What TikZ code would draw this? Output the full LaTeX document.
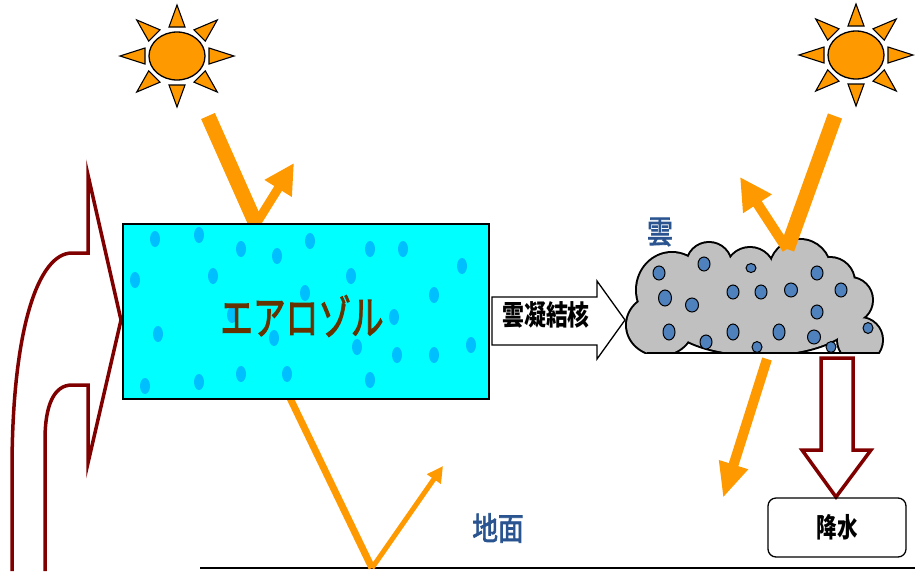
\documentclass[tikz,border=0pt]{standalone}
\usepackage{fontspec}
\newfontfamily\jpfont{Noto Sans CJK JP}
\newfontfamily\jpmid{Noto Sans CJK JP}[FakeBold=2.5]
\usetikzlibrary{arrows.meta}
\definecolor{sunorange}{HTML}{FF9900}
\definecolor{aqua}{HTML}{00FFFF}
\definecolor{aerodot}{HTML}{00BFFF}
\definecolor{flowred}{HTML}{800000}
\definecolor{cloudgrey}{HTML}{C0C0C0}
\definecolor{drop}{HTML}{4F81BD}
\definecolor{labelblue}{HTML}{2A5490}
\definecolor{aerobrown}{HTML}{663300}

\tikzset{
  beam/.style={draw=sunorange, line width=#1},
  bounce/.style 2 args={draw=sunorange, line width=#1, -{Triangle[width=#2pt,length=#2pt]}},
  flowarrow/.style={draw=flowred, line width=3.5pt, fill=white, line join=miter},
  jptext/.style={font={\jpmid\fontsize{#1pt}{#1pt}\selectfont}, inner sep=0pt},
  jpbold/.style={font={\jpfont\bfseries\fontsize{#1pt}{#1pt}\selectfont}, inner sep=0pt},
  sunpic/.pic={
    \foreach \a in {0,45,...,315}{
      \draw[fill=sunorange, line width=1.1pt, line join=miter]
        ({57*cos(\a)},{-51*sin(\a)})
        -- ({32*cos(\a)+8*sin(\a)},{-29*sin(\a)+8*cos(\a)})
        -- ({32*cos(\a)-8*sin(\a)},{-29*sin(\a)-8*cos(\a)}) -- cycle;
    }
    \draw[fill=sunorange, line width=1.3pt] (0,0) ellipse [x radius=28pt, y radius=24pt];
  }
}

\begin{document}
\begin{tikzpicture}[x=1pt,y=-1pt]
\useasboundingbox (0,0) rectangle (915,571);

% suns
\pic (sunL) at (177,56) {sunpic};
\pic (sunR) at (856,55) {sunpic};

% ground
\coordinate (groundL) at (200,568);
\coordinate (groundR) at (915,568);
\draw[line width=2pt] (groundL) -- (groundR);
\node[jptext=32, text=labelblue, xscale=0.8] (ground) at (498,528) {地面};

% sunlight on the aerosol layer
\coordinate (r1in) at (208,116);
\coordinate (r1hit) at (256,224);
\coordinate (r1out) at (294,163);
\draw[beam=15pt] (r1in) -- (r1hit);
\draw[bounce={9pt}{30}] (r1hit) -- (r1out);

% light passing through to the ground
\coordinate (r3in) at (289,396);
\coordinate (r3hit) at (372,568);
\coordinate (r3out) at (443,466);
\draw[beam=7pt] (r3in) -- (r3hit);
\draw[bounce={5pt}{16}] (r3hit) -- (r3out);

% inflow from the left
\draw[flowarrow, fill=none] (12,571) -- (12,470)
  .. controls (12,330) and (38,253) .. (72,253)
  -- (88,253) -- (88,175) -- (121,320) -- (88,463) -- (88,385) -- (72,385)
  .. controls (54,385) and (45,405) .. (45,440) -- (45,571);

% aerosol layer
\node[draw=black, line width=1.5pt, fill=aqua, minimum width=366pt,
      minimum height=175pt, inner sep=0pt, anchor=north west] (aero) at (122,223) {};
\foreach \px/\py in {155/239,199/235,241/249,277/256,310/241,370/249,403/249,462/266,
  135/280,213/276,351/276,305/293,434/295,232/315,394/317,158/334,274/338,357/347,
  397/355,434/355,471/345,145/386,199/382,241/374,287/374,370/380}
  \fill[aerodot] (\px,\py) ellipse [x radius=5pt, y radius=8pt];
\node[jptext=46, text=aerobrown, xscale=0.71] (aerolabel) at (302,316) {エアロゾル};

% condensation nuclei arrow
\draw[line width=1.3pt, fill=white, line join=miter]
  (492,297) -- (597,297) -- (597,281) -- (625,320) -- (597,359) -- (597,345) -- (492,345) -- cycle;
\node[jpbold=28, xscale=0.78] (ccn) at (546,315) {雲凝結核};

% cloud
\def\cloudparts{660/325/33/30, 672/290/35/37, 709/265/22/22, 750/272/24/24,
  800/270/30/30, 830/282/24/24, 850/300/22/22, 860/340/22/22, 760/315/95/40}
\begin{scope}
  \clip (600,200) rectangle (900,353);
  \foreach \cx/\cy/\rx/\ry in \cloudparts
    \draw[line width=4pt] (\cx,\cy) ellipse [x radius=\rx pt, y radius=\ry pt];
  \foreach \cx/\cy/\rx/\ry in \cloudparts
    \fill[cloudgrey] (\cx,\cy) ellipse [x radius=\rx pt, y radius=\ry pt];
\end{scope}
\coordinate (cloudBL) at (647,353);
\coordinate (cloudBR) at (879,353);
\draw[line width=2pt] (cloudBL) -- (cloudBR);
\foreach \px/\py/\rx/\ry in {659/273/6/7, 704/264/6/7, 751/268/5/4.5, 817/273/6/7,
  665/298/6.5/8, 692/305/6.5/7, 733/292/6/7, 761/292/6/7, 791/290/6.5/7, 841/290/6/7,
  817/312/6/7, 669/332/6/8, 706/342/6/7, 733/332/6/8, 779/332/6/8, 814/337/6.5/7,
  868/328/5/5.5, 757/347/5/5.5, 831/347/5/5.5}
  \draw[fill=drop, line width=1pt] (\px,\py) ellipse [x radius=\rx pt, y radius=\ry pt];
\node[jptext=32, text=labelblue, xscale=0.81] (cloudlabel) at (660,232) {雲};

% sunlight on the cloud
\coordinate (r2in) at (835,116);
\coordinate (r2hit) at (787,249);
\coordinate (r2out) at (740,177);
\draw[beam=15pt] (r2in) -- (r2hit);
\draw[bounce={10pt}{32}] (r2hit) -- (r2out);

% light scattered below the cloud
\coordinate (r4in) at (767,359);
\coordinate (r4out) at (723,498);
\draw[draw=sunorange, line width=10pt, -{Triangle[width=28pt,length=35pt]}] (r4in) -- (r4out);

% precipitation
\draw[flowarrow] (821,358) -- (853,358) -- (853,450) -- (871,450) -- (836,497)
  -- (802,450) -- (821,450) -- cycle;
\node[draw=black, line width=1.3pt, rounded corners=8pt, minimum width=138pt,
      minimum height=59pt, inner sep=0pt,
      font={\jpfont\bfseries\fontsize{27pt}{27pt}\selectfont}] (rain) at (837,527.5)
      {\scalebox{0.76}[1]{降水}};
\end{tikzpicture}
\end{document}
